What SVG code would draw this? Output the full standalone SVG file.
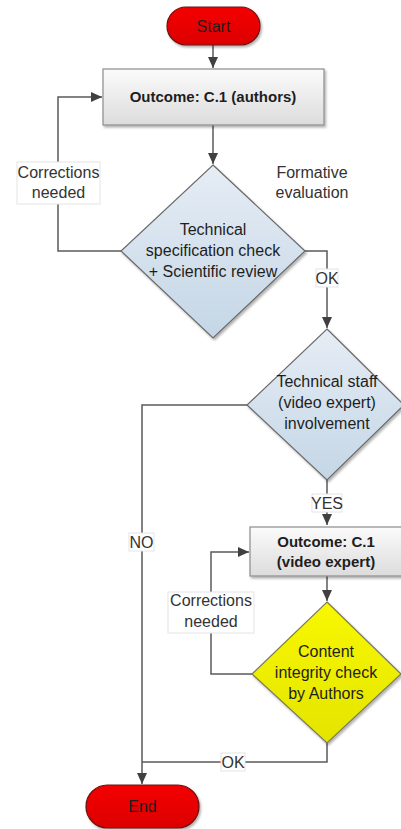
<svg xmlns="http://www.w3.org/2000/svg" width="401" height="829" viewBox="0 0 401 829">
  <defs>
    <linearGradient id="gRed" x1="0" y1="0" x2="0" y2="1">
      <stop offset="0" stop-color="#f40000"/>
      <stop offset="1" stop-color="#dc0000"/>
    </linearGradient>
    <linearGradient id="gGray" x1="0" y1="0" x2="0" y2="1">
      <stop offset="0" stop-color="#fbfbfb"/>
      <stop offset="1" stop-color="#dcdcdc"/>
    </linearGradient>
    <linearGradient id="gBlue" x1="0" y1="0" x2="0" y2="1">
      <stop offset="0" stop-color="#e6edf5"/>
      <stop offset="1" stop-color="#c4d6e6"/>
    </linearGradient>
    <linearGradient id="gYellow" x1="0" y1="0" x2="0" y2="1">
      <stop offset="0" stop-color="#f8f800"/>
      <stop offset="1" stop-color="#e4e400"/>
    </linearGradient>
    <filter id="shadow" x="-10%" y="-10%" width="125%" height="125%">
      <feDropShadow dx="1.5" dy="2" stdDeviation="1.2" flood-color="#000" flood-opacity="0.3"/>
    </filter>
    <marker id="arrow" markerUnits="userSpaceOnUse" markerWidth="12" markerHeight="12" viewBox="0 0 12 12" refX="11" refY="6" orient="auto">
      <path d="M0,1 L11,6 L0,11 Z" fill="#404040"/>
    </marker>
  </defs>
  <style>
    text { font-family: "Liberation Sans", Arial, sans-serif; font-size: 16px; fill: #1e1e1e; text-anchor: middle; }
    .bold { font-weight: bold; font-size: 15px; }
    .lbl { fill: #333; }
    .edge { fill: none; stroke: #5a5a5a; stroke-width: 1.5; }
    .tag { fill: #fff; stroke: #e4e4e4; stroke-width: 1; }
    .term { fill: url(#gRed); stroke: #6a1010; stroke-width: 1.2; filter: url(#shadow); }
    .proc { fill: url(#gGray); stroke: #8c8c8c; stroke-width: 1.2; filter: url(#shadow); }
    .dec { fill: url(#gBlue); stroke: #6a6a6a; stroke-width: 1.2; filter: url(#shadow); }
    .decY { fill: url(#gYellow); stroke: #7a7a5a; stroke-width: 1.2; filter: url(#shadow); }
  </style>

  <!-- connectors -->
  <g id="connectors">
    <path class="edge" d="M213,45 V68" marker-end="url(#arrow)"/>
    <path class="edge" d="M213,125 V164" marker-end="url(#arrow)"/>
    <path class="edge" d="M121,251 H58 V97 H102" marker-end="url(#arrow)"/>
    <path class="edge" d="M305,251 H327 V328" marker-end="url(#arrow)"/>
    <path class="edge" d="M247,405 H142 V784" marker-end="url(#arrow)"/>
    <path class="edge" d="M327,480 V525" marker-end="url(#arrow)"/>
    <path class="edge" d="M327,576 V601" marker-end="url(#arrow)"/>
    <path class="edge" d="M252,674 H211 V552 H249" marker-end="url(#arrow)"/>
    <path class="edge" d="M327,743 V762 H142"/>

    <!-- connector labels -->
    <g id="lbl-corr1">
      <rect class="tag" x="17" y="162" width="83" height="42"/>
      <text class="lbl" x="58.5" y="178">Corrections</text>
      <text class="lbl" x="58.5" y="198">needed</text>
    </g>
    <g id="lbl-ok1">
      <rect class="tag" x="316" y="269" width="22" height="18"/>
      <text class="lbl" x="327" y="283.5">OK</text>
    </g>
    <g id="lbl-no">
      <rect class="tag" x="129" y="533" width="25" height="18"/>
      <text class="lbl" x="141.5" y="547.5">NO</text>
    </g>
    <g id="lbl-yes">
      <rect class="tag" x="312" y="494" width="30" height="18"/>
      <text class="lbl" x="327" y="508.5">YES</text>
    </g>
    <g id="lbl-corr2">
      <rect class="tag" x="168" y="592" width="86" height="41"/>
      <text class="lbl" x="211" y="606">Corrections</text>
      <text class="lbl" x="211" y="627">needed</text>
    </g>
    <g id="lbl-ok2">
      <rect class="tag" x="221" y="753" width="24" height="18"/>
      <text class="lbl" x="233" y="767.5">OK</text>
    </g>
  </g>

  <!-- annotation -->
  <g id="note-formative">
    <text class="lbl" x="312" y="178">Formative</text>
    <text class="lbl" x="312" y="198">evaluation</text>
  </g>

  <!-- nodes -->
  <g id="start">
    <rect class="term" x="167" y="7" width="93" height="38" rx="19"/>
    <text x="213.5" y="31.5">Start</text>
  </g>

  <g id="outcome-authors">
    <rect class="proc" x="103" y="69" width="221" height="56"/>
    <text class="bold" x="213" y="102">Outcome: C.1 (authors)</text>
  </g>

  <g id="review-check">
    <polygon class="dec" points="213,165 305,251 213,338 121,251"/>
    <text x="213" y="235">Technical</text>
    <text x="213" y="256">specification check</text>
    <text x="213" y="277">+ Scientific review</text>
  </g>

  <g id="staff-involvement">
    <polygon class="dec" points="327,329 404,405 327,480 247,405"/>
    <text x="327" y="387">Technical staff</text>
    <text x="327" y="408">(video expert)</text>
    <text x="327" y="429">involvement</text>
  </g>

  <g id="outcome-video">
    <rect class="proc" x="250" y="527" width="152" height="49"/>
    <text class="bold" x="326" y="547">Outcome: C.1</text>
    <text class="bold" x="326" y="567">(video expert)</text>
  </g>

  <g id="integrity-check">
    <polygon class="decY" points="327,602 401,674 327,743 252,674"/>
    <text x="326" y="657">Content</text>
    <text x="326" y="678">integrity check</text>
    <text x="326" y="699">by Authors</text>
  </g>

  <g id="end">
    <rect class="term" x="86" y="785" width="113" height="43" rx="21.5"/>
    <text x="142.5" y="811.5">End</text>
  </g>
</svg>
